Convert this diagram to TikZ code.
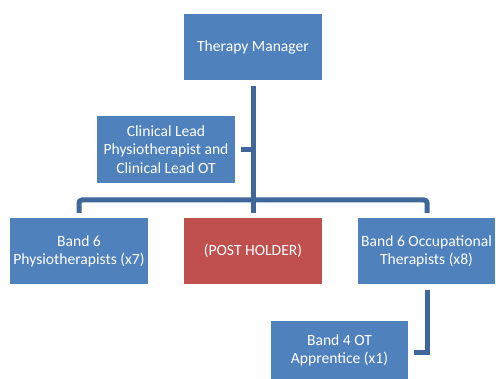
\documentclass[tikz,border=0pt]{standalone}
\usepackage{fontspec}
\setmainfont{Carlito}
\definecolor{boxblue}{HTML}{4F81BD}
\definecolor{boxred}{HTML}{C0504D}
\definecolor{linkblue}{HTML}{3F679C}
\begin{document}
\begin{tikzpicture}[x=1pt,y=-1pt,
  box/.style={rectangle,fill=boxblue,text=white,align=center,inner sep=0pt,
    minimum width=138pt,minimum height=66pt,
    font=\fontsize{15.6}{18.2}\selectfont},
  link/.style={draw=linkblue,line width=5pt},
]
\useasboundingbox (0,0) rectangle (496,379);
\fill[white] (0,0) rectangle (496,379);
% boxes
\node[box] (mgr) at (253,47) {Therapy Manager};
\node[box,minimum height=67pt] (lead) at (166,149.5) {Clinical Lead\\Physiotherapist and\\Clinical Lead OT};
\node[box] (phys) at (79,251) {Band 6\\Physiotherapists (x7)};
\node[box,fill=boxred] (post) at (253,251) {(POST HOLDER)};
\node[box,minimum width=137pt] (ot) at (426.5,251) {Band 6 Occupational\\Therapists (x8)};
\node[box,minimum width=137pt,minimum height=58pt] (app) at (339.5,350) {Band 4 OT\\Apprentice (x1)};
% connectors
\coordinate (mgrbot) at ([yshift=-6pt]mgr.south);
\coordinate (jn) at (253,213);
\coordinate (stub) at ([xshift=6pt]lead.east);
\draw[link] (mgrbot) -- (jn);
\draw[link] (stub) -- (mgrbot |- stub);
\coordinate (pl) at ([yshift=5pt]phys.north);
\coordinate (ol) at (427,213);
\draw[link,rounded corners=3pt] (pl) -- (79,200) -- (427,200) -- (ol);
\coordinate (otbot) at ([yshift=-6pt]ot.south -| ol);
\coordinate (appr) at ([xshift=6pt]app.east |- 0,353);
\draw[link] (otbot) -- (otbot |- appr) -- (appr);
\end{tikzpicture}
\end{document}
